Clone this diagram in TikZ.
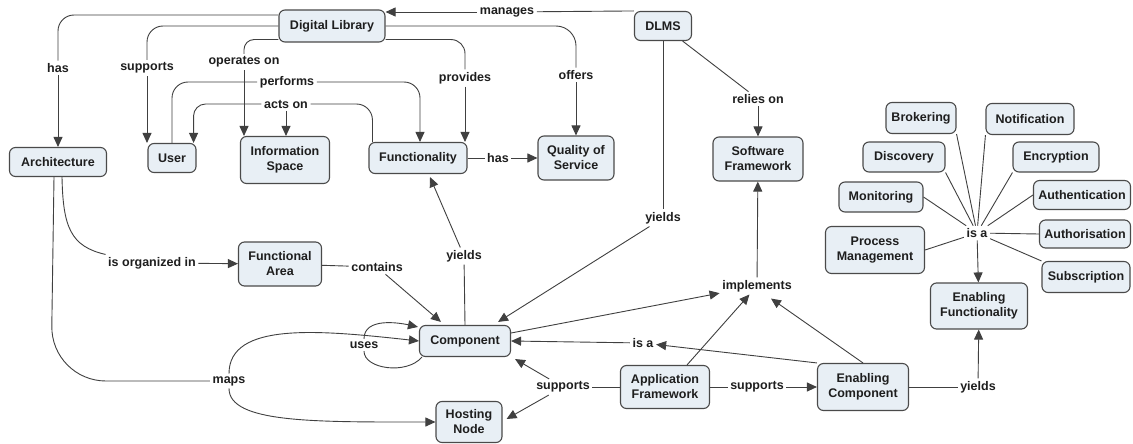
\documentclass[tikz,border=0pt]{standalone}
\usepackage{fontspec}
\setmainfont{Liberation Sans}
\usetikzlibrary{arrows.meta,calc}
\definecolor{boxfill}{HTML}{E8EFF5}
\definecolor{boxline}{HTML}{4A4A4A}
\definecolor{ink}{HTML}{1E1E1E}
\tikzset{
  concept/.style={draw=boxline, line width=1.1pt, fill=boxfill, rounded corners=6pt,
    align=center, font=\bfseries\fontsize{12.5}{15}\selectfont, text=ink, inner sep=2pt},
  phrase/.style={font=\bfseries\fontsize{12.5}{15}\selectfont, text=ink, inner sep=2.5pt},
  conn/.style={draw=ink!85, line width=0.9pt},
  arr/.style={conn, -{Triangle[length=10pt,width=9pt]}},
}
\begin{document}
\begin{tikzpicture}[x=1pt,y=-1pt]
\useasboundingbox[fill=white] (0,0) rectangle (1133,444);

% concepts
\node[concept, minimum width=106, minimum height=32] (dl)    at (332,26)  {Digital Library};
\node[concept, minimum width=57,  minimum height=29] (dlms)  at (663,26)  {DLMS};
\node[concept, minimum width=97,  minimum height=29] (arch)  at (58,162)  {Architecture};
\node[concept, minimum width=48,  minimum height=29] (user)  at (172,158) {User};
\node[concept, minimum width=89,  minimum height=47] (info)  at (285,160) {Information\\Space};
\node[concept, minimum width=98,  minimum height=31] (func)  at (418,158) {Functionality};
\node[concept, minimum width=76,  minimum height=44] (qos)   at (576,158) {Quality of\\Service};
\node[concept, minimum width=90,  minimum height=44] (sf)    at (758,159) {Software\\Framework};
\node[concept, minimum width=70,  minimum height=31] (brok)  at (921,118) {Brokering};
\node[concept, minimum width=88,  minimum height=31] (notif) at (1030,119) {Notification};
\node[concept, minimum width=82,  minimum height=30] (disc)  at (904,157) {Discovery};
\node[concept, minimum width=86,  minimum height=30] (encr)  at (1056,157) {Encryption};
\node[concept, minimum width=84,  minimum height=30] (mon)   at (881,197) {Monitoring};
\node[concept, minimum width=97,  minimum height=29] (auth)  at (1082,195) {Authentication};
\node[concept, minimum width=99,  minimum height=47] (pm)    at (875,250) {Process\\Management};
\node[concept, minimum width=91,  minimum height=28] (authz) at (1085,234) {Authorisation};
\node[concept, minimum width=88,  minimum height=31] (subs)  at (1086,277) {Subscription};
\node[concept, minimum width=97,  minimum height=46] (ef)    at (979,306) {Enabling\\Functionality};
\node[concept, minimum width=83,  minimum height=44] (fa)    at (280,264) {Functional\\Area};
\node[concept, minimum width=91,  minimum height=31] (comp)  at (465,341) {Component};
\node[concept, minimum width=66,  minimum height=41] (host)  at (469,422) {Hosting\\Node};
\node[concept, minimum width=89,  minimum height=43] (af)    at (665,387) {Application\\Framework};
\node[concept, minimum width=91,  minimum height=47] (ec)    at (863,387) {Enabling\\Component};

% linking phrases
\node[phrase] (lmanages) at (507,12)  {manages};
\node[phrase] (lhas1)    at (58,68)   {has};
\node[phrase] (lsup1)    at (147,68)  {supports};
\node[phrase] (lops)     at (244,62)  {operates on};
\node[phrase] (lperf)    at (287,82)  {performs};
\node[phrase] (lacts)    at (286,104) {acts on};
\node[phrase] (lprov)    at (465,78)  {provides};
\node[phrase] (loff)     at (576,75)  {offers};
\node[phrase] (lrel)     at (758,99)  {relies on};
\node[phrase] (lhas2)    at (498,158) {has};
\node[phrase] (lyD)      at (663,218) {yields};
\node[phrase] (lyC)      at (464,256) {yields};
\node[phrase] (limpl)    at (757,286) {implements};
\node[phrase] (lorg)     at (152,263) {is organized in};
\node[phrase] (lcont)    at (377,267) {contains};
\node[phrase] (luses)    at (364,345) {uses};
\node[phrase] (lmaps)    at (229,381) {maps};
\node[phrase] (lisa1)    at (643,343) {is a};
\node[phrase] (lsupL)    at (563,387) {supports};
\node[phrase] (lsupR)    at (757,387) {supports};
\node[phrase] (lyE)      at (978,387) {yields};
\node[phrase] (lisa2)    at (977,233) {is a};

% Digital Library and DLMS
\draw[conn] (dlms.north west) -- (lmanages);
\draw[arr] (lmanages) -- (dl.east |- lmanages);
\draw[conn, rounded corners=16pt] (dl.west |- 0,15) -| (lhas1);
\draw[arr] (lhas1) -- (arch);
\draw[conn, rounded corners=16pt] (dl.west) -| (lsup1);
\draw[arr] (lsup1) -- (lsup1 |- user.north);
\draw[conn, rounded corners=10pt] ([yshift=3pt]dl.south west) -| (lops);
\draw[arr] (lops) -- (lops |- info.north);
\draw[conn, rounded corners=14pt] ([yshift=3pt]dl.south east) -| (lprov);
\draw[arr] (lprov) -- (lprov |- func.north);
\draw[conn, rounded corners=20pt] (dl.east) -| (loff);
\draw[arr] (loff) -- (qos);

% user, functionality, information space
\draw[conn, rounded corners=16pt] (user.north) |- (lperf);
\draw[arr, rounded corners=16pt] (lperf) -| ([xshift=2pt]func.north);
\draw[conn, rounded corners=16pt] ([xshift=4pt]func.north west) |- (lacts);
\draw[arr, rounded corners=12pt] (lacts) -| ([xshift=-3pt]user.north east);
\draw[arr] (lacts) -- (lacts |- info.north);
\draw[conn] (func) -- (lhas2);
\draw[arr] (lhas2) -- (qos);

% DLMS relations
\draw[conn] (dlms) -- (lrel);
\draw[arr] (lrel) -- (sf);
\draw[conn] (dlms) -- (lyD);
\draw[arr] (lyD) -- ([shift={(-13pt,3pt)}]comp.north east);

% component relations
\draw[conn] (comp.north) -- (lyC);
\draw[arr] (lyC) -- ([shift={(12pt,-3pt)}]func.south);
\draw[arr] ([yshift=8pt]comp.east) -- (limpl);
\draw[arr] ([xshift=22pt]af.north) -- (limpl);
\draw[arr] (ec.north) -- ([shift={(14pt,-4pt)}]limpl.south);
\draw[arr] (limpl) -- (sf);

% architecture
\draw[conn] ([xshift=4pt]arch.south) .. controls +(1,50) and +(-35,-8) .. (lorg.north west);
\draw[arr] (lorg) -- (fa);
\draw[conn] (fa) -- (lcont);
\draw[arr] (lcont) -- ([shift={(22pt,3pt)}]comp.north west);
\draw[conn] ([xshift=3pt]comp.south west) .. controls +(-15,18) and +(0,18) .. (luses.south);
\draw[arr] (luses.north) .. controls +(0,-22) and +(-18,-4) .. ([shift={(-1pt,-2pt)}]comp.north west);
\draw[conn, rounded corners=55pt] ([xshift=-4pt]arch.south) -- (lmaps.west -| 51,0) -- (lmaps.west);
\draw[arr] (lmaps.north) .. controls +(0,-52) and +(-100,-11) .. (comp.west);
\draw[arr] (lmaps.south) .. controls +(0,35) and +(-120,0) .. (host.west);

% application framework and enabling component
\draw[conn] (af) -- (lsupL);
\draw[arr] (lsupL) -- ([shift={(4pt,-2pt)}]comp.south east);
\draw[arr] (lsupL) -- ([shift={(4pt,3pt)}]host.east);
\draw[conn] (af) -- (lsupR);
\draw[arr] (lsupR) -- (ec);
\draw[arr] (ec.north west) -- (lisa1);
\draw[arr] (lisa1) -- (comp.east);
\draw[conn] (ec) -- (lyE);
\draw[arr] (lyE) -- (ef);

% kinds of enabling functionality
\foreach \n/\a in {brok/south east, notif/south west, disc/south east, encr/south west,
                   mon/east, auth/west, pm/east, authz/west, subs/north west}
  \draw[conn] (\n.\a) -- (lisa2);
\draw[arr] (lisa2) -- (ef);
\end{tikzpicture}
\end{document}
